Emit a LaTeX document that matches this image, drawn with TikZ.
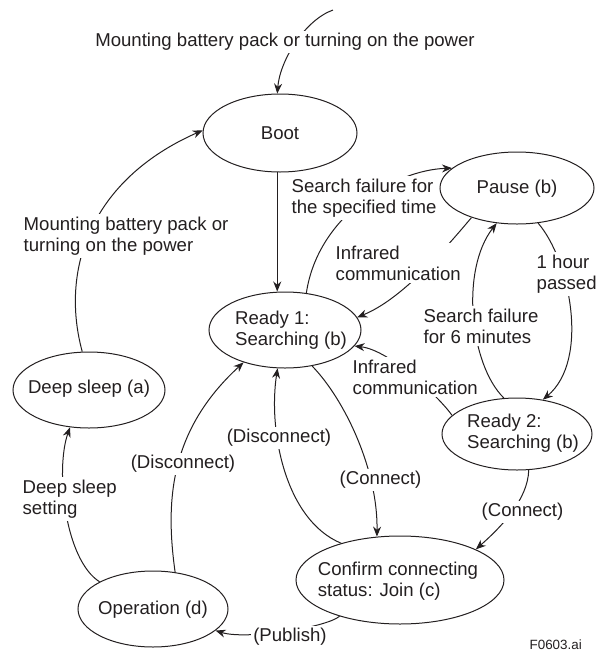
\documentclass[tikz,border=0pt]{standalone}
\usepackage{fontspec}
\setmainfont{Liberation Sans}
\usetikzlibrary{shapes.geometric,arrows.meta}
\definecolor{ink}{RGB}{35,31,32}
\begin{document}
\begin{tikzpicture}[x=1pt,y=-1pt,
  every node/.style={font=\fontsize{18.6}{21}\selectfont, text=ink},
  st/.style={draw=ink, line width=1pt, ellipse, inner sep=0pt},
  txt/.style={align=left, inner sep=0pt},
  lbl/.style={align=left, fill=white, inner sep=2.5pt},
  ln/.style={draw=ink, line width=1pt},
  arr/.style={draw=ink, line width=1pt, -{Stealth[length=10pt,width=8pt]}}]
\useasboundingbox (0,0) rectangle (597,657);

% states
\node[st, minimum width=154pt, minimum height=78pt] (boot) at (280,133) {};
\node[st, minimum width=154pt, minimum height=72pt] (pause) at (517,188) {};
\node[st, minimum width=152pt, minimum height=76pt] (r1) at (285,330) {};
\node[st, minimum width=150pt, minimum height=72pt] (r2) at (517,434) {};
\node[st, minimum width=152pt, minimum height=76pt] (deep) at (89,390) {};
\node[st, minimum width=208pt, minimum height=88pt] (conf) at (400,580) {};
\node[st, minimum width=150pt, minimum height=76pt] (op) at (153,609) {};

\node[txt] (bootT) at (280,133) {Boot};
\node[txt] (pauseT) at (517,189) {Pause (b)};
\node[txt] (r1T) at (291,330) {Ready 1:\\Searching (b)};
\node[txt] (r2T) at (523,433) {Ready 2:\\Searching (b)};
\node[txt] (deepT) at (89,389) {Deep sleep (a)};
\node[txt] (confT) at (398,581) {Confirm connecting\\status: Join (c)};
\node[txt] (opT) at (153,610) {Operation (d)};

\coordinate (start) at (333,10);

% connectors
\draw[arr] (start) .. controls (305,20) and (280,60) .. (boot.94);
\draw[arr] (boot.266) -- (boot.266 |- r1.north);
\draw[arr] (r1.60) .. controls (318,215) and (395,170) .. (pause.163);
\draw[arr] (pause.213) .. controls (440,255) and (400,300) .. (r1.10);
\draw[arr] (r2.164) .. controls (440,398) and (390,350) .. (r1.347);
\draw[arr] (pause.301) .. controls (570,260) and (590,360) .. (r2.53);
\draw[arr] (r2.110) .. controls (470,365) and (460,270) .. (pause.240);
\draw[arr] (r2.288) .. controls (528,500) and (500,528) .. (conf.22.5);
\draw[arr] (r1.307) .. controls (345,400) and (378,470) .. (conf.118);
\draw[arr] (conf.148) .. controls (285,520) and (268,430) .. (r1.259);
\draw[arr] (op.59) .. controls (165,500) and (170,430) .. (r1.218);
\draw[arr] (op.153) .. controls (65,560) and (55,470) .. (deep.243);
\draw[arr] (deep.100) .. controls (60,270) and (90,180) .. (boot.178);
\draw[arr] (conf.211) .. controls (325,628) and (245,640) .. (op.341);

% labels
\node[lbl] (l0) at (285,42) {Mounting battery pack or turning on the power};
\node[lbl, anchor=west] (l1) at (289,198) {Search failure for\\the specified time};
\node[lbl, anchor=west] (l2) at (333,263) {Infrared\\communication};
\node[lbl, anchor=west] (l3) at (350,377) {Infrared\\communication};
\node[lbl, anchor=west] (l4) at (534,274) {1 hour\\passed};
\node[lbl, anchor=west] (l5) at (421,326) {Search failure\\for 6 minutes};
\node[lbl, anchor=west] (l6) at (479,512) {(Connect)};
\node[lbl, anchor=west] (l7) at (337,480) {(Connect)};
\node[lbl] (l8) at (279,438) {(Disconnect)};
\node[lbl] (l9) at (183,464) {(Disconnect)};
\node[lbl, anchor=west] (l10) at (20,499) {Deep sleep\\setting};
\node[lbl, anchor=west] (l11) at (21,236) {Mounting battery pack or\\turning on the power};
\node[lbl] (l12) at (290,637) {(Publish)};
\node[anchor=east, inner sep=0pt, font=\fontsize{13.4}{16}\selectfont] (fig) at (582,645) {F0603.ai};
\end{tikzpicture}
\end{document}
